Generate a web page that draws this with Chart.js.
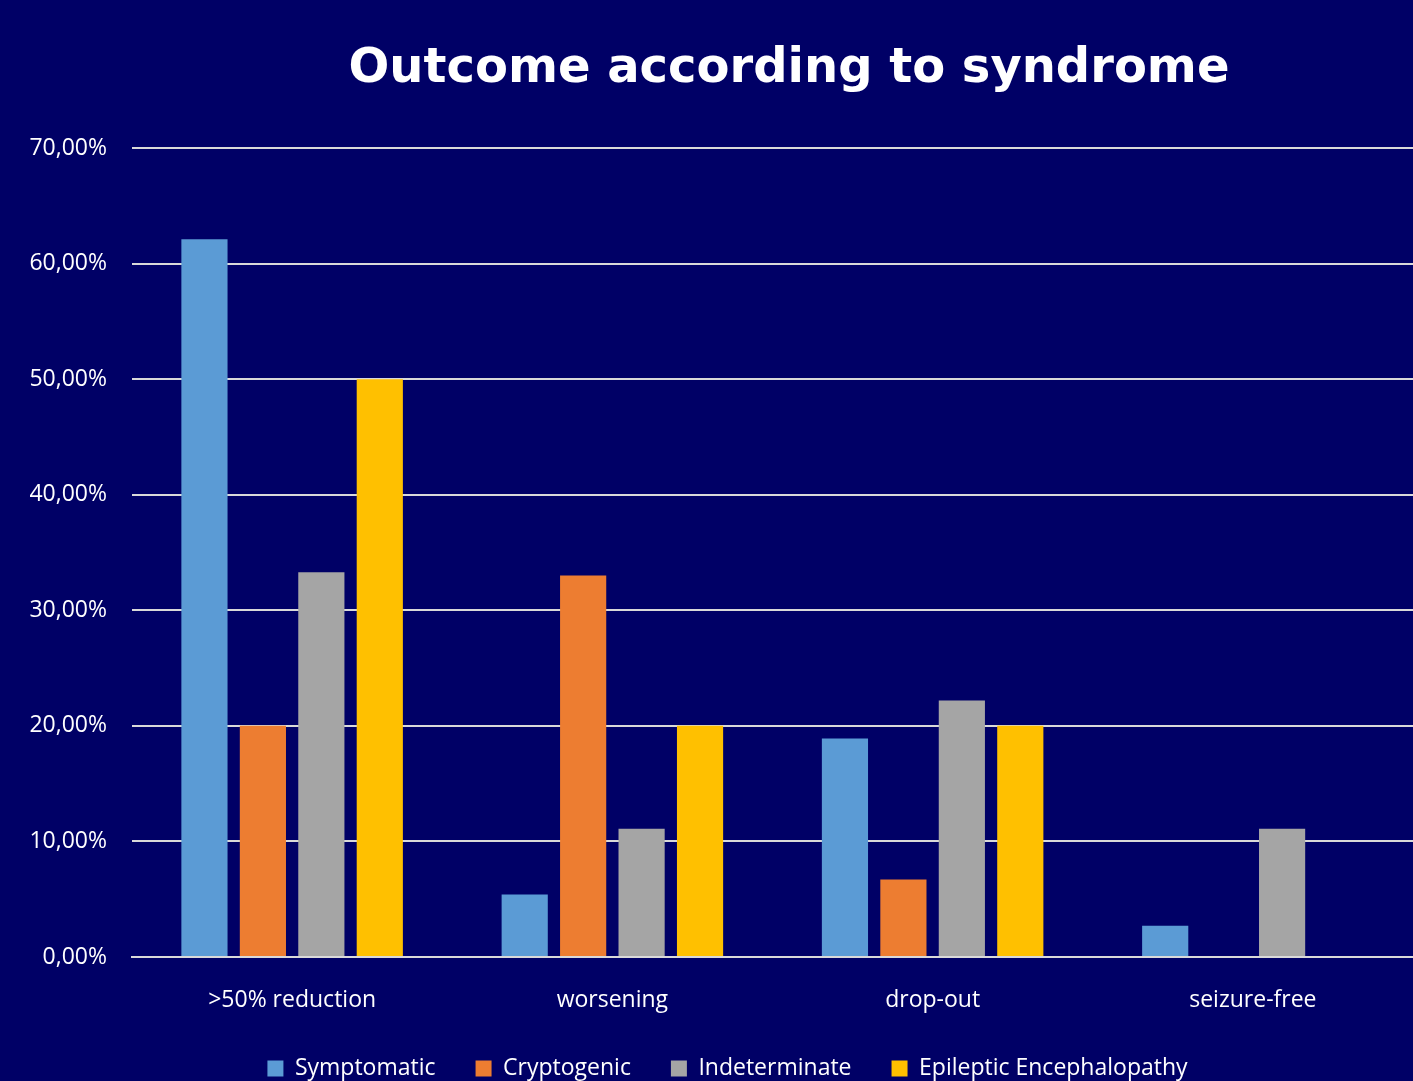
<!DOCTYPE html>
<html>
<head>
<meta charset="utf-8">
<script src="https://cdn.jsdelivr.net/npm/chart.js@4"></script>
<style>
  html, body { margin: 0; padding: 0; background: #000066; }
  canvas { display: block; }
</style>
</head>
<body>
<canvas id="outcomeChart" width="1413" height="1081"></canvas>
<script>
const chartTitle = "Outcome according to syndrome";
const outcomes = [">50% reduction", "worsening", "drop-out", "seizure-free"];
const symptomatic = [62.1, 5.4, 18.9, 2.7];
const cryptogenic = [20.0, 33.0, 6.7, 0];
const indeterminate = [33.3, 11.1, 22.2, 11.1];
const epilepticEnc = [50.0, 20.0, 20.0, 0];
const yTicks = [0, 10, 20, 30, 40, 50, 60, 70];

const labelFont = "'Open Sans', 'Liberation Sans', sans-serif";

// title is drawn by hand so it can sit off-centre like the original slide
const titlePlugin = {
  id: "slideTitle",
  afterDraw(chart) {
    const ctx = chart.ctx;
    ctx.save();
    ctx.font = "bold 48px 'DejaVu Sans', Verdana, sans-serif";
    ctx.fillStyle = "#ffffff";
    ctx.textAlign = "center";
    ctx.textBaseline = "alphabetic";
    ctx.fillText(chartTitle, 789, 82);
    ctx.restore();
  }
};

// pull the legend row a little lower and to the right
const legendTrim = {
  id: "legendTrim",
  beforeInit(chart) {
    const legend = chart.legend;
    if (!legend) return;
    const fit = legend.fit;
    legend.fit = function () {
      fit.call(this);
      this.height -= 9;
    };
  },
  afterLayout(chart) {
    const legend = chart.legend;
    if (!legend) return;
    legend.left += 21;
    legend.right += 21;
  }
};

const bar = (label, data, color) => ({
  label: label,
  data: data,
  backgroundColor: color,
  borderWidth: 0,
  categoryPercentage: 0.73,
  barPercentage: 0.79
});

new Chart(document.getElementById("outcomeChart"), {
  type: "bar",
  data: {
    labels: outcomes,
    datasets: [
      bar("Symptomatic", symptomatic, "#5B9BD5"),
      bar("Cryptogenic", cryptogenic, "#ED7D31"),
      bar("Indeterminate", indeterminate, "#A5A5A5"),
      bar("Epileptic Encephalopathy", epilepticEnc, "#FFC000")
    ]
  },
  options: {
    responsive: false,
    animation: false,
    layout: {
      padding: { top: 148, right: 0, bottom: 0, left: 0 }
    },
    scales: {
      x: {
        afterFit: scale => { scale.height = 60; },
        grid: { display: false, drawTicks: false },
        border: { display: true, color: "#D9D9D9", width: 2 },
        ticks: {
          color: "#ffffff",
          font: { family: labelFont, size: 23 },
          padding: 30
        }
      },
      y: {
        min: 0,
        max: 70,
        afterFit: scale => { scale.width = 132; },
        afterBuildTicks: scale => { scale.ticks = yTicks.map(v => ({ value: v })); },
        grid: { color: "#D9D9D9", lineWidth: 2, drawTicks: false },
        border: { display: false },
        ticks: {
          color: "#ffffff",
          font: { family: labelFont, size: 23 },
          padding: 25,
          callback: v => v.toFixed(2).replace(".", ",") + "%"
        }
      }
    },
    plugins: {
      title: { display: false },
      tooltip: { enabled: false },
      legend: {
        position: "bottom",
        labels: {
          color: "#ffffff",
          boxWidth: 16,
          boxHeight: 16,
          padding: 40,
          font: { family: labelFont, size: 23 }
        }
      }
    }
  },
  plugins: [legendTrim, titlePlugin]
});
</script>
</body>
</html>
